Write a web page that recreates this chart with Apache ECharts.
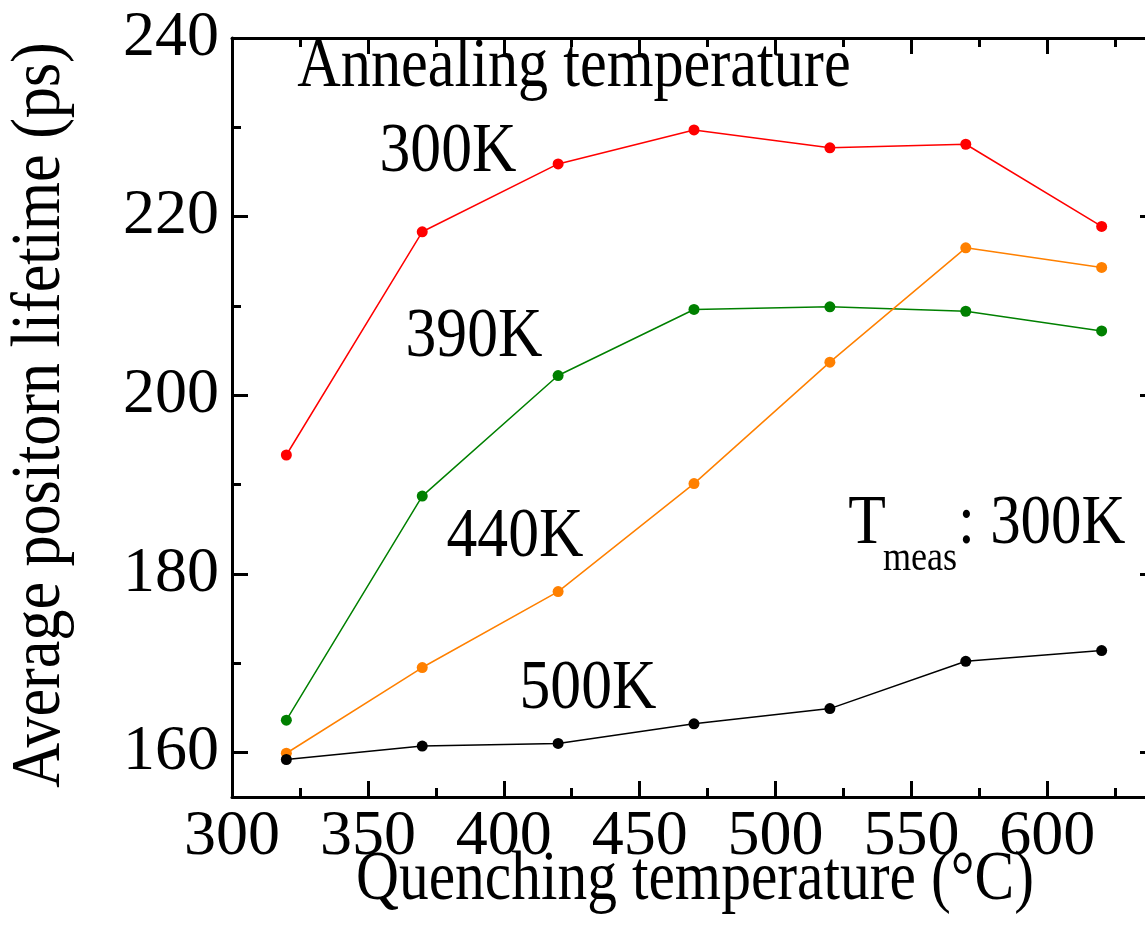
<!DOCTYPE html>
<html>
<head>
<meta charset="utf-8">
<script src="https://cdn.jsdelivr.net/npm/echarts@6/dist/echarts.min.js"></script>
<style>
html,body{margin:0;padding:0;background:#fff;overflow:hidden;width:1145px;height:944px;}
#chart{width:1165px;height:944px;}
</style>
</head>
<body>
<div id="chart"></div>
<script>
// ---- data ----
const quenchTemps = [320, 370, 420, 470, 520, 570, 620];
const anneal300K = [193.3, 218.3, 225.9, 229.7, 227.7, 228.1, 218.9];
const anneal390K = [163.6, 188.7, 202.2, 209.6, 209.9, 209.4, 207.2];
const anneal440K = [159.9, 169.5, 178.0, 190.1, 203.7, 216.5, 214.3];
const anneal500K = [159.2, 160.7, 161.0, 163.2, 164.9, 170.2, 171.4];
const xMajorTicks = [300, 350, 400, 450, 500, 550, 600];
const xMinorTicks = [325, 375, 425, 475, 525, 575, 625];
const yMajorTicks = [160, 180, 200, 220, 240];
const yMinorTicks = [170, 190, 210, 230];
const seriesNames = ['300K', '390K', '440K', '500K'];

const FONT = 'Liberation Serif';
const chart = echarts.init(document.getElementById('chart'));

function pairs(ys){ return quenchTemps.map((x,i)=>[x, ys[i]]); }

const X_MIN = 300, X_MAX = 640, Y_MIN = 155, Y_MAX = 240;
const lineW = 3;

function xAx(pos, ticks, len, labels, line){
  return {
    type:'value', position:pos, min:X_MIN, max:X_MAX,
    axisLine:{show:line, onZero:false, lineStyle:{color:'#000', width:lineW}},
    axisTick:{show:true, inside:true, length:len, customValues:ticks, lineStyle:{color:'#000', width:lineW}},
    axisLabel:{show:labels, customValues:ticks, color:'#000', fontFamily:FONT, fontSize:64, margin:8},
    splitLine:{show:false}
  };
}
function yAx(pos, ticks, len, labels, line){
  return {
    type:'value', position:pos, min:Y_MIN, max:Y_MAX,
    axisLine:{show:line, onZero:false, lineStyle:{color:'#000', width:lineW}},
    axisTick:{show:true, inside:true, length:len, customValues:ticks, lineStyle:{color:'#000', width:lineW}},
    axisLabel:{show:labels, customValues:ticks, color:'#000', fontFamily:FONT, fontSize:64, margin:13},
    splitLine:{show:false}
  };
}

function txt(text, x, y, size, sx, align, rot){
  return {
    type:'text', x:x, y:y, rotation:rot||0, scaleX:sx, silent:true,
    style:{text:text, x:0, y:0, fill:'#000', fontFamily:FONT, fontSize:size,
      align:align||'center', verticalAlign:'middle'}
  };
}

const colors = ['#ff0000', '#008000', '#ff8000', '#000000'];
const datas = [anneal300K, anneal390K, anneal440K, anneal500K];

chart.setOption({
  animation:false,
  backgroundColor:'#fff',
  grid:{left:232, top:38, width:924, height:759, containLabel:false},
  xAxis:[
    xAx('bottom', xMajorTicks, 16, true, true),
    xAx('bottom', xMinorTicks, 9, false, false),
    xAx('top', xMajorTicks, 16, false, true),
    xAx('top', xMinorTicks, 9, false, false)
  ],
  yAxis:[
    yAx('left', yMajorTicks, 16, true, true),
    yAx('left', yMinorTicks, 9, false, false),
    yAx('right', yMajorTicks, 16, false, true),
    yAx('right', yMinorTicks, 9, false, false)
  ],
  series: datas.map((d,i)=>({
    name:seriesNames[i], type:'line', data:pairs(d),
    xAxisIndex:0, yAxisIndex:0,
    symbol:'circle', symbolSize:11,
    lineStyle:{color:colors[i], width:1.5},
    itemStyle:{color:colors[i]},
    z:2+i
  })),
  graphic:[
    txt('Average positorn lifetime (ps)', 41, 415, 69, 0.9, 'center', Math.PI/2),
    txt('Quenching temperature (°C)', 695, 881, 70, 0.85, 'center'),
    txt('Annealing temperature', 574, 68, 70, 0.86, 'center'),
    txt('300K', 448, 153, 70, 0.88, 'center'),
    txt('390K', 474, 338, 70, 0.88, 'center'),
    txt('440K', 515, 538, 70, 0.88, 'center'),
    txt('500K', 588, 690, 70, 0.88, 'center'),
    txt('T', 867, 525, 70, 0.88, 'center'),
    txt('meas', 920, 559, 42, 0.86, 'center'),
    txt(': 300K', 958, 525, 70, 0.87, 'left')
  ]
});
</script>
</body>
</html>
